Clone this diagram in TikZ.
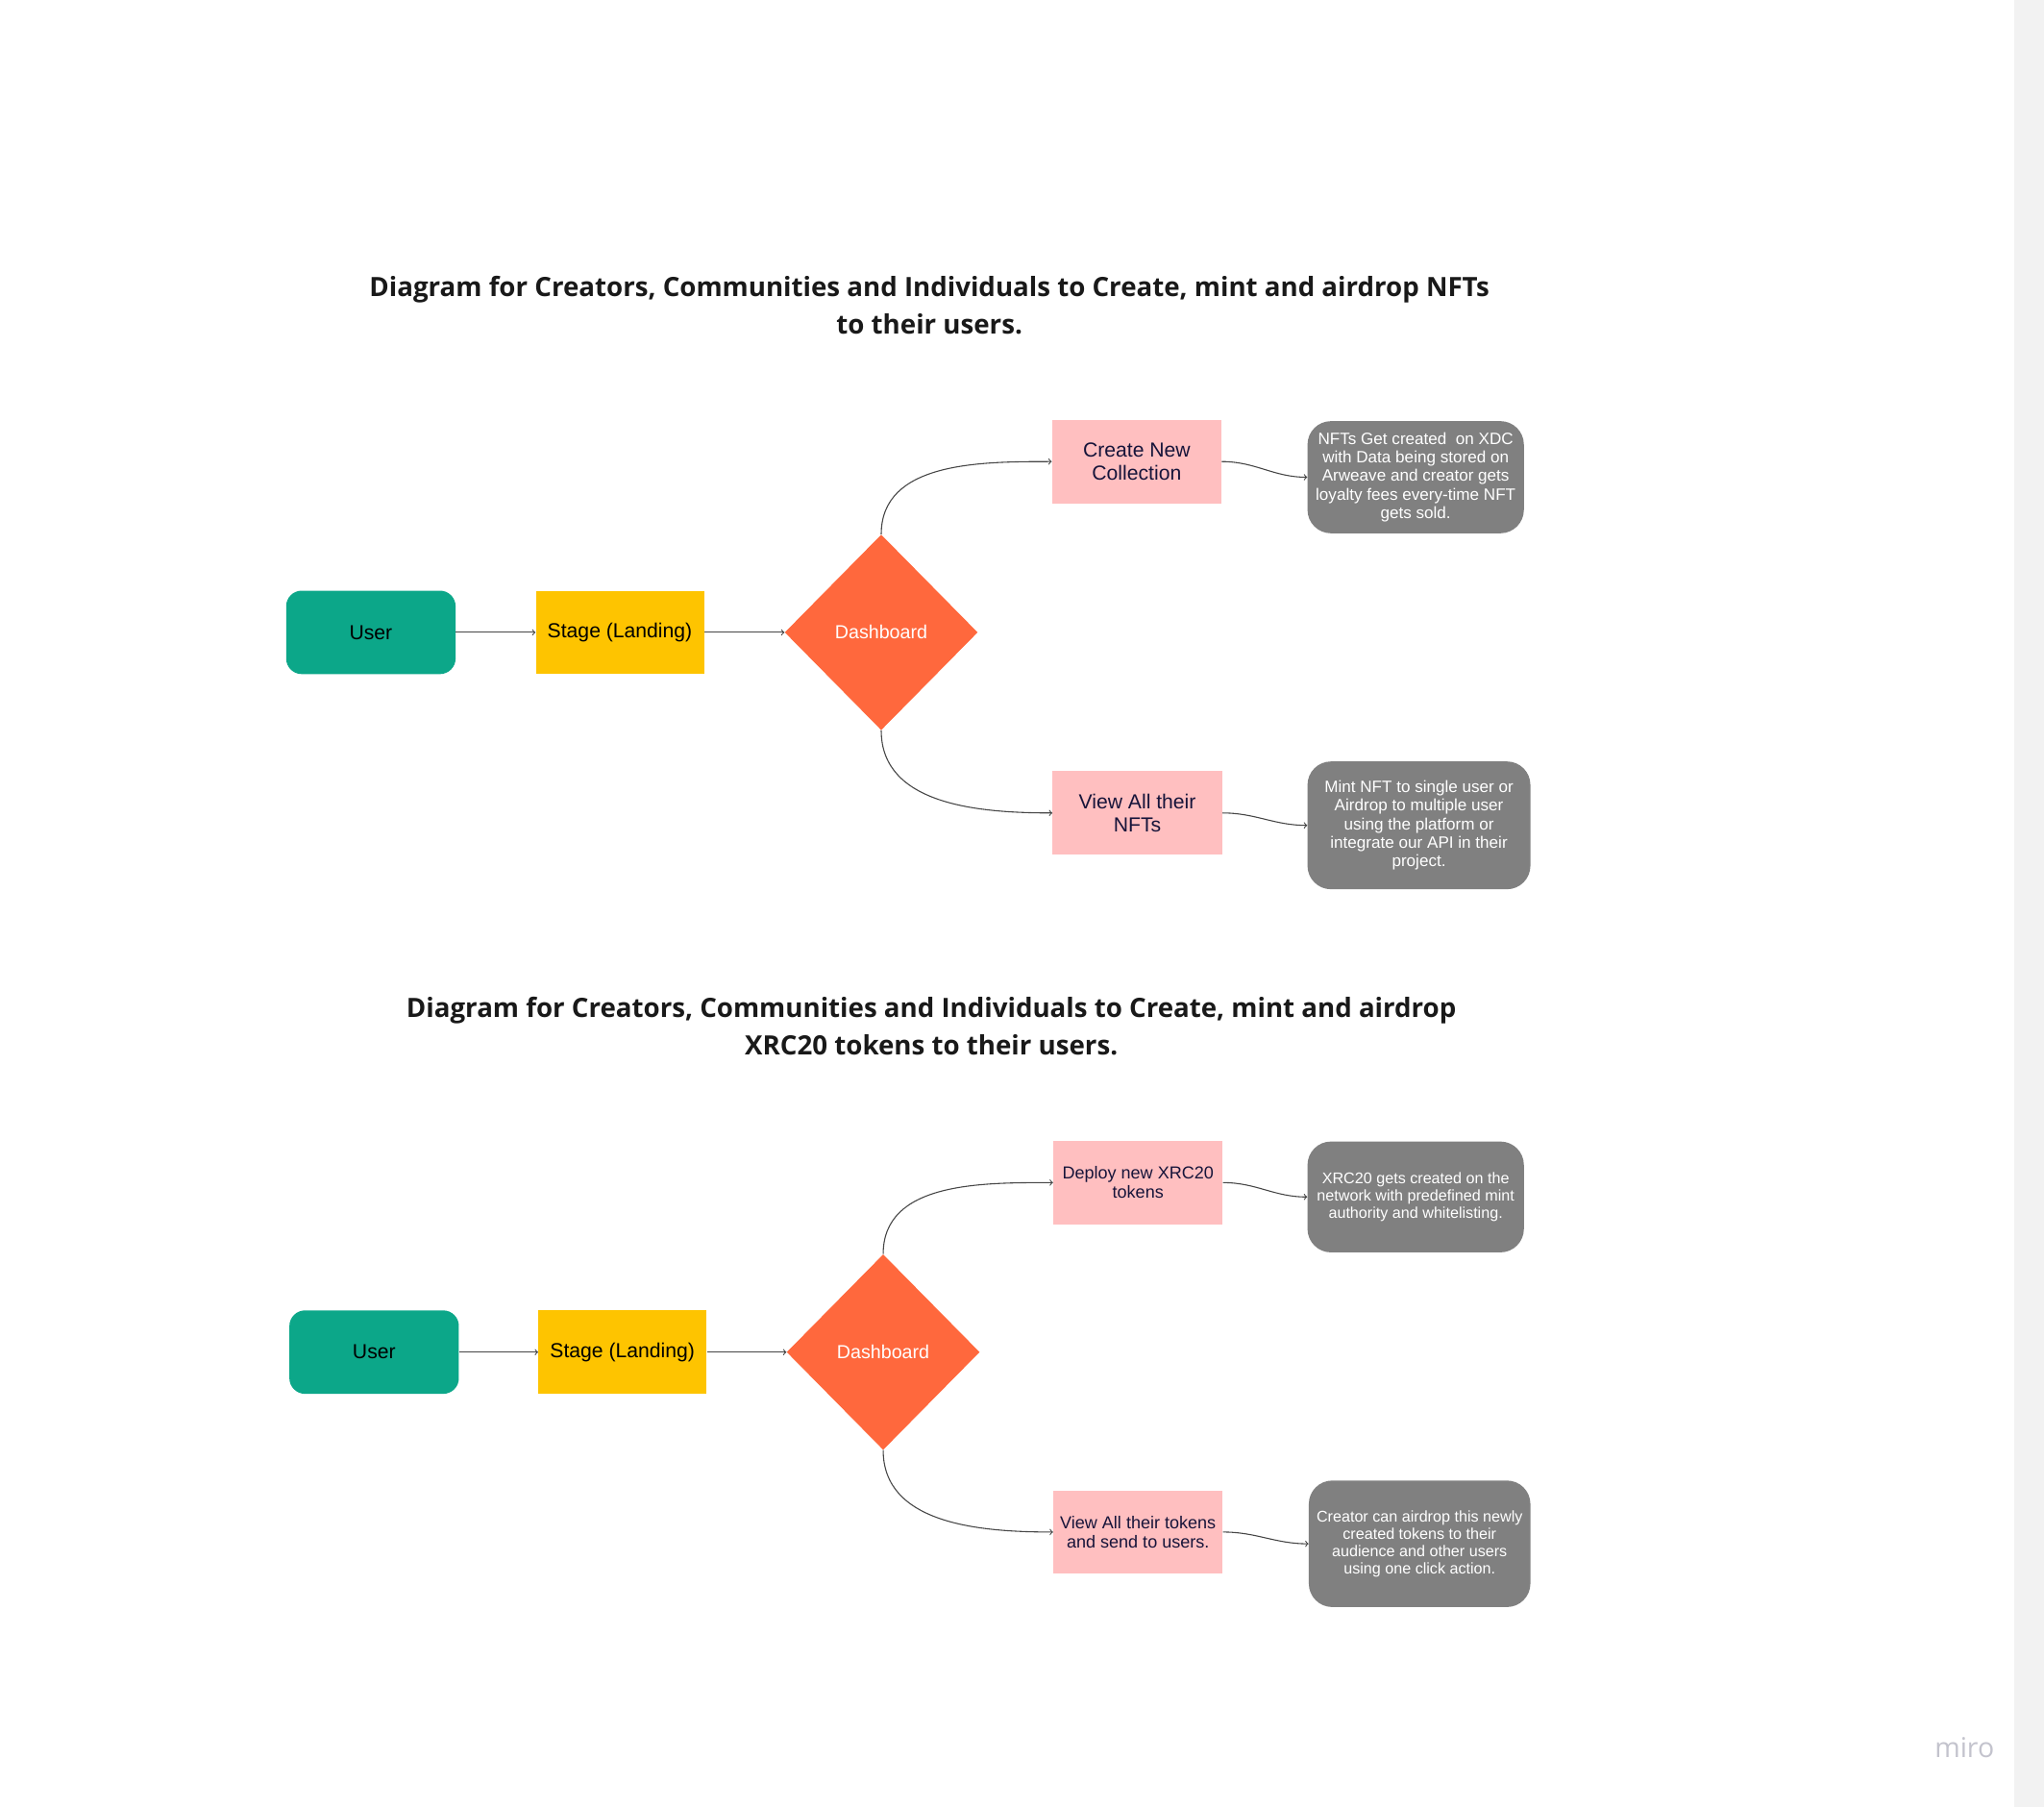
\documentclass[tikz,border=0pt]{standalone}
\usepackage{fontspec}
\setmainfont{Liberation Sans}
\newfontfamily\headfont{Open Sans}
\usepackage{tikz}
\usetikzlibrary{shapes.geometric, arrows, positioning}

\definecolor{userteal}{RGB}{12,167,137}
\definecolor{stageyellow}{RGB}{254,196,0}
\definecolor{dashorange}{RGB}{255,104,61}
\definecolor{stepink}{RGB}{255,191,192}
\definecolor{notegray}{RGB}{128,128,128}
\definecolor{inknavy}{RGB}{22,20,58}
\definecolor{linegray}{RGB}{70,70,70}
\definecolor{mirogray}{RGB}{195,195,205}
\definecolor{stripgray}{RGB}{242,242,242}

\tikzstyle{arrow} = [->,>=to,draw=linegray,line width=0.8pt]
\tikzstyle{headline} = [align=center,inner sep=0pt,text=black!90,font=\headfont\bfseries\fontsize{20.4}{29}\selectfont]
\tikzstyle{userbox} = [rectangle,rounded corners=12pt,fill=userteal,minimum width=130pt,minimum height=64pt,inner sep=0pt,font=\fontsize{15.6}{18}\selectfont]
\tikzstyle{stagebox} = [rectangle,fill=stageyellow,minimum width=129pt,minimum height=64pt,inner sep=0pt,font=\fontsize{15.6}{18}\selectfont]
\tikzstyle{dashbox} = [diamond,fill=dashorange,minimum width=148pt,minimum height=150pt,inner sep=0pt,text=white,font=\fontsize{14.5}{17}\selectfont]
\tikzstyle{pinkbox} = [rectangle,fill=stepink,minimum width=130pt,minimum height=64pt,inner sep=0pt,align=center,text=inknavy,font=\fontsize{15.6}{18}\selectfont]
\tikzstyle{pinksmall} = [pinkbox,font=\fontsize{13.3}{15}\selectfont]
\tikzstyle{notebox} = [rectangle,rounded corners=18pt,fill=notegray,inner sep=0pt,align=center,text=white,font=\fontsize{12.6}{14.25}\selectfont]
\tikzstyle{notesmall} = [notebox,font=\fontsize{11.9}{13.3}\selectfont]

\begin{document}
\begin{tikzpicture}[x=1pt,y=-1pt]
\useasboundingbox (0,0) rectangle (1568,1386);
\fill[white] (0,0) rectangle (1568,1386);
\fill[stripgray] (1545,0) rectangle (1568,1386);

% NFT flow
\node[headline] (head1) at (713,234) {Diagram for Creators, Communities and Individuals to Create, mint and airdrop NFTs\\to their users.};

\node[userbox] (user1) at (284.5,485) {User};
\node[stagebox] (stage1) at (475.5,485) {Stage (Landing)};
\node[dashbox] (dash1) at (676,485) {Dashboard};
\node[pinkbox] (create1) at (872,354) {Create New\\Collection};
\node[pinkbox] (view1) at (872.5,623.5) {View All their\\NFTs};
\node[notebox,minimum width=166pt,minimum height=86pt] (note1) at (1086,366) {NFTs Get created\ \ on XDC\\with Data being stored on\\Arweave and creator gets\\loyalty fees every-time NFT\\gets sold.};
\node[notebox,minimum width=171pt,minimum height=98pt] (note2) at (1088.5,633) {Mint NFT to single user or\\Airdrop to multiple user\\using the platform or\\integrate our API in their\\project.};

\draw[arrow] (user1) -- (stage1);
\draw[arrow] (stage1) -- (dash1);
\draw[arrow] (dash1.north) to[out=90,in=180] (create1.west);
\draw[arrow] (dash1.south) to[out=-90,in=180] (view1.west);
\draw[arrow] (create1.east) to[out=0,in=180] (note1.west);
\draw[arrow] (view1.east) to[out=0,in=180] (note2.west);

% XRC20 flow
\node[headline] (head2) at (714.5,787) {Diagram for Creators, Communities and Individuals to Create, mint and airdrop\\XRC20 tokens to their users.};

\node[userbox] (user2) at (287,1037) {User};
\node[stagebox] (stage2) at (477.5,1037) {Stage (Landing)};
\node[dashbox] (dash2) at (677.5,1037) {Dashboard};
\node[pinksmall] (deploy2) at (873,907) {Deploy new XRC20\\tokens};
\node[pinksmall] (view2) at (873,1175) {View All their tokens\\and send to users.};
\node[notesmall,minimum width=166pt,minimum height=85pt] (note3) at (1086,918) {XRC20 gets created on the\\network with predefined mint\\authority and whitelisting.};
\node[notesmall,minimum width=170pt,minimum height=97pt] (note4) at (1089,1184) {Creator can airdrop this newly\\created tokens to their\\audience and other users\\using one click action.};

\draw[arrow] (user2) -- (stage2);
\draw[arrow] (stage2) -- (dash2);
\draw[arrow] (dash2.north) to[out=90,in=180] (deploy2.west);
\draw[arrow] (dash2.south) to[out=-90,in=180] (view2.west);
\draw[arrow] (deploy2.east) to[out=0,in=180] (note3.west);
\draw[arrow] (view2.east) to[out=0,in=180] (note4.west);

\node[text=mirogray,font=\headfont\fontsize{21}{24}\selectfont] (logo) at (1507,1340) {miro};
\end{tikzpicture}
\end{document}
